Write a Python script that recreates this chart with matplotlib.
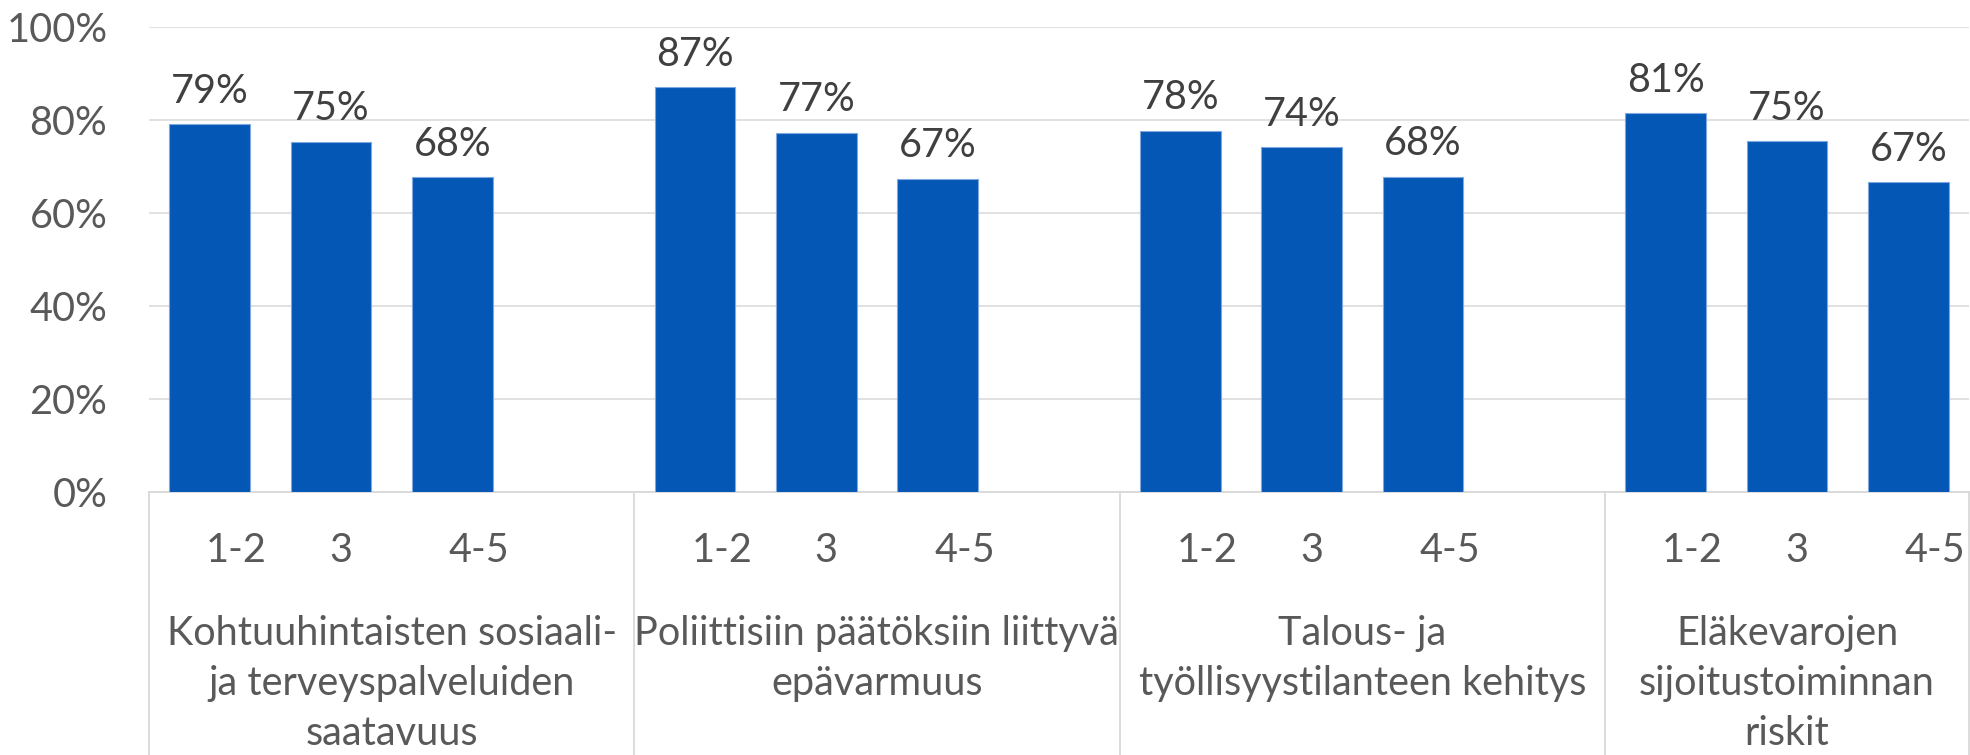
import numpy as np
import matplotlib
matplotlib.use('Agg')
import matplotlib.pyplot as plt
import matplotlib.transforms as mtransforms

# data
groups = ['Kohtuuhintaisten sosiaali-\nja terveyspalveluiden\nsaatavuus',
          'Poliittisiin päätöksiin liittyvä\nepävarmuus',
          'Talous- ja\ntyöllisyystilanteen kehitys',
          'Eläkevarojen\nsijoitustoiminnan\nriskit']
classes = ['1-2', '3', '4-5']
vals_sote = [79.0, 75.3, 67.6]
vals_poli = [87.0, 77.2, 67.3]
vals_talous = [77.6, 74.1, 67.7]
vals_elake = [81.4, 75.4, 66.6]
yticks = [0, 20, 40, 60, 80, 100]

all_vals = [vals_sote, vals_poli, vals_talous, vals_elake]

plt.rcParams['font.family'] = ['Lato', 'DejaVu Sans']
BLUE = '#0457B5'
GRID = '#D9D9D9'
TXT = '#595959'
LBL = '#404040'
FS = 28.5

W, H = 1970, 755
fig = plt.figure(figsize=(W / 100, H / 100), dpi=100)
ax = fig.add_axes([149 / W, 1 - 492 / H, (1969 - 149) / W, (492 - 26.7) / H])

slot = 4  # 3 bars + one empty slot per group
for g, vals in enumerate(all_vals):
    xs = [g * slot + k for k in range(len(vals))]
    ax.bar(xs, vals, width=0.667, color=BLUE, edgecolor='#7FA8DE', linewidth=0.8, zorder=3)
    for x, v in zip(xs, vals):
        ax.annotate(f'{round(v)}%', (x, v), xytext=(0, 15.5), textcoords='offset points',
                    ha='center', va='baseline', fontsize=FS, color=LBL)

n_slots = slot * len(groups) - 1
ax.set_xlim(-0.5, n_slots - 0.5)
ax.set_ylim(0, 100)
ax.set_yticks(yticks)
ax.set_yticklabels([f'{t}%' for t in yticks], fontsize=FS, color=TXT)
ax.tick_params(axis='y', length=0, pad=30)
ax.set_xticks([])
ax.grid(axis='y', color=GRID, linewidth=1.1, zorder=0)
for s in ['left', 'right', 'top']:
    ax.spines[s].set_visible(False)
ax.spines['bottom'].set_color(GRID)
ax.spines['bottom'].set_linewidth(1.3)

trans = mtransforms.blended_transform_factory(ax.transData, ax.transAxes)

# group separators running down through the label area
bounds = [-0.5] + [g * slot + 3.5 for g in range(len(groups) - 1)] + [n_slots - 0.5]
for b in bounds:
    ax.plot([b, b], [0, -0.62], transform=trans, color=GRID, linewidth=1.3, clip_on=False)

# class labels (shifted right like in the original)
label_shift = [0.22, 0.08, 0.22]
for g in range(len(groups)):
    for k, c in enumerate(classes):
        ax.text(g * slot + k + label_shift[k], -0.1504, c, transform=trans,
                ha='center', va='baseline', fontsize=FS, color=TXT)

# group labels, one line at a time
for g, name in enumerate(groups):
    cx = (bounds[g] + bounds[g + 1]) / 2
    for i, line in enumerate(name.split('\n')):
        ax.text(cx, -0.3288 - i * 0.1075, line, transform=trans,
                ha='center', va='baseline', fontsize=FS, color=TXT)

fig.savefig('out.png', dpi=100)
